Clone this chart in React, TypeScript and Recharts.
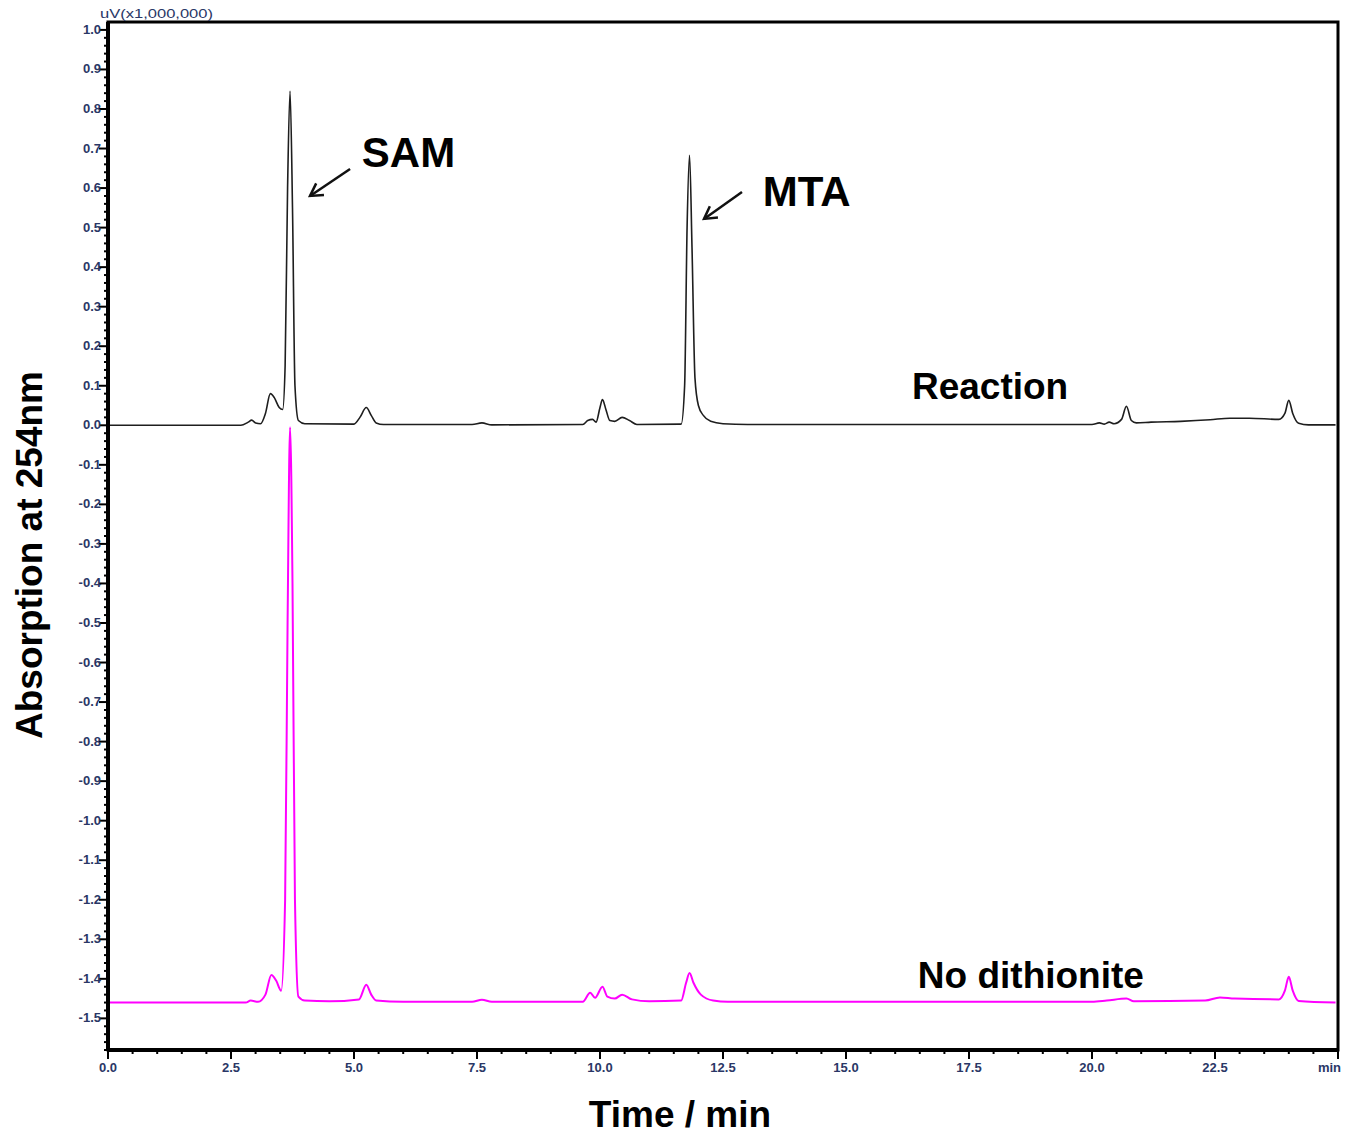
import React from "react";
import {
  LineChart,
  Line,
  XAxis,
  YAxis,
  ReferenceArea,
  ReferenceLine,
  ReferenceDot,
} from "recharts";

// retention time (min) / absorbance (x1,000,000 uV)
const reactionTime = [
  0, 2.7, 2.85, 2.92, 3.0, 3.1, 3.2, 3.3, 3.38, 3.48, 3.55, 3.6, 3.65, 3.7, 3.75, 3.8, 3.87, 4.0,
  5.0, 5.12, 5.25, 5.35, 5.45, 5.6, 7.4, 7.6, 7.8, 9.65, 9.75, 9.85, 9.92, 10.0, 10.05, 10.12,
  10.2, 10.3, 10.45, 10.6, 10.75, 11.65, 11.72, 11.77, 11.82, 11.87, 11.93, 12.0, 12.1, 12.25,
  12.5, 13.0, 20.0, 20.15, 20.25, 20.35, 20.45, 20.6, 20.7, 20.8, 20.9, 21.2, 21.8, 22.4, 22.8,
  23.2, 23.8, 23.92, 24.0, 24.08, 24.2, 24.4, 24.95,
];
const reactionAbs = [
  0, 0, 0.008, 0.013, 0.006, 0.004, 0.03, 0.08, 0.07, 0.045, 0.04, 0.15, 0.6, 0.845, 0.55, 0.1,
  0.012, 0.004, 0.003, 0.02, 0.045, 0.025, 0.006, 0.002, 0.002, 0.006, 0.001, 0.002, 0.012,
  0.015, 0.008, 0.045, 0.065, 0.04, 0.012, 0.01, 0.02, 0.012, 0.002, 0.003, 0.1, 0.5, 0.683,
  0.45, 0.12, 0.05, 0.025, 0.01, 0.004, 0.002, 0.002, 0.006, 0.003, 0.008, 0.004, 0.015, 0.048,
  0.012, 0.006, 0.008, 0.01, 0.014, 0.018, 0.018, 0.015, 0.03, 0.063, 0.03, 0.005, 0.001, 0.001,
];

const noDithTime = [
  0, 2.8, 2.9, 3.05, 3.2, 3.32, 3.42, 3.52, 3.6, 3.65, 3.7, 3.75, 3.8, 3.87, 4.0, 4.5, 5.1, 5.25,
  5.35, 5.45, 6.0, 7.4, 7.6, 7.8, 9.65, 9.8, 9.9, 10.05, 10.15, 10.3, 10.45, 10.65, 11.0, 11.65,
  11.75, 11.82, 11.9, 12.05, 12.3, 12.6, 20.0, 20.3, 20.7, 20.85, 22.3, 22.6, 22.9, 23.8, 23.92,
  24.0, 24.08, 24.2, 24.95,
];
const noDithAbs = [
  -1.46, -1.46, -1.455, -1.458, -1.44, -1.39, -1.405, -1.43, -1.2, -0.5, -0.005, -0.4, -1.2,
  -1.445, -1.455, -1.457, -1.452, -1.415, -1.44, -1.455, -1.458, -1.458, -1.453, -1.458, -1.458,
  -1.435, -1.448, -1.42, -1.445, -1.45, -1.44, -1.452, -1.457, -1.455, -1.41, -1.385, -1.41,
  -1.44, -1.455, -1.458, -1.458, -1.455, -1.45, -1.457, -1.455, -1.447, -1.45, -1.452, -1.43,
  -1.395, -1.43, -1.456, -1.46,
];

const reactionData = reactionTime.map((t, i) => ({ t, v: reactionAbs[i] }));
const noDithData = noDithTime.map((t, i) => ({ t, v: noDithAbs[i] }));

// labelled ticks every 2.5 min / 0.1, with minor ticks between them
const xTicks: number[] = [];
for (let i = 0; i <= 50; i++) xTicks.push(i * 0.5);
const yTicks: number[] = [];
for (let i = -79; i <= 50; i++) yTicks.push(i * 0.02);

const isMajor = (v: number, step: number) => Math.abs(v / step - Math.round(v / step)) < 1e-6;
const tickColor = "#2a3766";
const font = "'Liberation Sans', Arial, sans-serif";

const XTick = (props: any) => {
  const { x, y, payload } = props;
  const v = payload.value;
  const major = isMajor(v, 2.5);
  return (
    <g>
      <line x1={x} x2={x} y1={y} y2={y + (major ? 9 : 4)} stroke="#000" strokeWidth={2} />
      {major && (
        <text
          x={v === 25 ? x + 3 : x}
          y={y + 22}
          textAnchor={v === 25 ? "end" : "middle"}
          fontSize={13}
          fontFamily={font}
          fontWeight={600}
          fill={tickColor}
        >
          {v === 25 ? "min" : v.toFixed(1)}
        </text>
      )}
    </g>
  );
};

const YTick = (props: any) => {
  const { x, y, payload } = props;
  const v = payload.value;
  const major = isMajor(v, 0.1);
  return (
    <g>
      <line x1={x - (major ? 9 : 4)} x2={x} y1={y} y2={y} stroke="#000" strokeWidth={2} />
      {major && (
        <text x={x - 7} y={y + 4} textAnchor="end" fontSize={13} fontFamily={font} fontWeight={600} fill={tickColor}>
          {(Math.abs(v) < 1e-9 ? 0 : v).toFixed(1)}
        </text>
      )}
    </g>
  );
};

const Arrow = (p: any) => {
  const { x1, y1, x2, y2 } = p;
  const ang = Math.atan2(y1 - y2, x1 - x2);
  const len = 14;
  const a1 = ang + Math.PI / 6;
  const a2 = ang - Math.PI / 6;
  return (
    <g stroke="#111" strokeWidth={2.5} fill="none">
      <line x1={x1} y1={y1} x2={x2} y2={y2} />
      <polyline
        points={`${x2 + len * Math.cos(a1)},${y2 + len * Math.sin(a1)} ${x2},${y2} ${x2 + len * Math.cos(a2)},${y2 + len * Math.sin(a2)}`}
      />
    </g>
  );
};

const annotations = [
  { label: "SAM", t: 5.16, v: 0.653, size: 42 },
  { label: "MTA", t: 13.31, v: 0.554, size: 42 },
  { label: "Reaction", t: 16.34, v: 0.066, size: 37 },
  { label: "No dithionite", t: 16.46, v: -1.423, size: 37 },
];
const arrows = [
  { from: { t: 4.92, v: 0.648 }, to: { t: 4.106, v: 0.58 } },
  { from: { t: 12.886, v: 0.59 }, to: { t: 12.114, v: 0.522 } },
];

export default function App() {
  return (
    <div style={{ position: "relative", width: 1357, height: 1137 }}>
      <style>{"body{margin:0}"}</style>
      <LineChart width={1357} height={1137} margin={{ top: 22, right: 19, bottom: 57, left: 58 }}>
        <XAxis
          dataKey="t"
          type="number"
          domain={[0, 25]}
          ticks={xTicks}
          interval={0}
          tick={<XTick />}
          tickSize={0}
          tickMargin={0}
          tickLine={false}
          axisLine={{ stroke: "#000", strokeWidth: 4 }}
          height={30}
          allowDataOverflow
        />
        <YAxis
          dataKey="v"
          type="number"
          domain={[-1.58, 1.02]}
          ticks={yTicks}
          interval={0}
          tick={<YTick />}
          tickSize={0}
          tickMargin={0}
          tickLine={false}
          axisLine={{ stroke: "#000", strokeWidth: 4 }}
          width={50}
          allowDataOverflow
        />
        <ReferenceArea x1={0} x2={25} y1={-1.58} y2={1.02} fill="none" stroke="#000" strokeWidth={3} />
        <Line
          data={noDithData}
          dataKey="v"
          type="monotone"
          stroke="#ff00ff"
          strokeWidth={2}
          dot={false}
          isAnimationActive={false}
        />
        <Line
          data={reactionData}
          dataKey="v"
          type="monotone"
          stroke="#1e1e1e"
          strokeWidth={1.6}
          dot={false}
          isAnimationActive={false}
        />
        {arrows.map((a, i) => (
          <ReferenceLine
            key={i}
            segment={[{ x: a.from.t, y: a.from.v }, { x: a.to.t, y: a.to.v }]}
            shape={Arrow}
          />
        ))}
        {annotations.map((a) => (
          <ReferenceDot
            key={a.label}
            x={a.t}
            y={a.v}
            r={0}
            shape={(p: any) => (
              <text x={p.cx} y={p.cy} fontSize={a.size} fontWeight="bold" fontFamily={font} fill="#000">
                {a.label}
              </text>
            )}
          />
        ))}
      </LineChart>
      <svg width={1357} height={1137} style={{ position: "absolute", left: 0, top: 0, pointerEvents: "none" }}>
        <text x={100} y={18} fontSize={12} fontFamily={font} fill={tickColor} textLength={113} lengthAdjust="spacingAndGlyphs">
          uV(x1,000,000)
        </text>
        <text
          transform="translate(42,555) rotate(-90)"
          textAnchor="middle"
          fontSize={37}
          fontWeight="bold"
          fontFamily={font}
          fill="#000"
        >
          Absorption at 254nm
        </text>
        <text x={680} y={1127} textAnchor="middle" fontSize={37} fontWeight="bold" fontFamily={font} fill="#000">
          Time / min
        </text>
      </svg>
    </div>
  );
}
